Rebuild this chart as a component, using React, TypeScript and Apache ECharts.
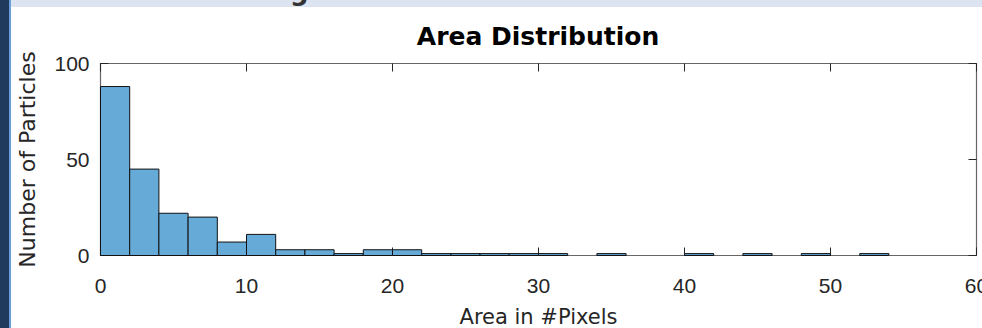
import React, { useEffect, useRef } from "react";
import * as echarts from "echarts";

const binStarts = [0, 2, 4, 6, 8, 10, 12, 14, 16, 18, 20, 22, 24, 26, 28, 30, 32, 34, 36, 38, 40, 42, 44, 46, 48, 50, 52, 54, 56, 58];
const binWidth = 2;
const counts = [88, 45, 22, 20, 7, 11, 3, 3, 1, 3, 3, 1, 1, 1, 1, 1, 0, 1, 0, 0, 1, 0, 1, 0, 1, 0, 1, 0, 0, 0];
const xTicks = [0, 10, 20, 30, 40, 50, 60];
const yTicks = [0, 50, 100];

const titleText = "Area Distribution";
const xName = "Area in #Pixels";
const yName = "Number of Particles";

export default function App() {
  const ref = useRef<HTMLDivElement>(null);
  useEffect(() => {
    if (!ref.current) return;
    const chart = echarts.init(ref.current, null, { renderer: "svg" });
    const data = binStarts.map((s, i) => [s, s + binWidth, counts[i]]);
    const axisColor = "#262626";
    const boxLine = () => ({ show: true, onZero: false, lineStyle: { color: "#666666", width: 1.2 } });
    const tickStyle = () => ({ show: true, inside: true, length: 8, lineStyle: { color: "#262626", width: 1 } });
    const labelStyle = () => ({ color: axisColor, fontSize: 21, fontFamily: "Liberation Sans" });
    chart.setOption({
      animation: false,
      backgroundColor: "#ffffff",
      graphic: [
        { type: "rect", left: 0, top: 0, shape: { width: 9, height: 328 }, style: { fill: "#1f3a5d" } },
        { type: "rect", left: 9, top: 0, shape: { width: 2, height: 328 }, style: { fill: "#6b9fd9" } },
        { type: "rect", left: 11, top: 0, shape: { width: 971, height: 7 }, style: { fill: "#dbe4f0" } },
        { type: "text", x: 290, y: 4, style: { text: "g", font: "bold 26px 'DejaVu Sans'", fill: "#333", textVerticalAlign: "bottom" } },
        { type: "text", x: 538, y: 24, style: { text: titleText, font: "bold 25px 'DejaVu Sans'", fill: "#000", textAlign: "center", textVerticalAlign: "top" } },
      ],
      grid: { left: 100.5, right: 5.5, top: 63.5, bottom: 72.5, containLabel: false, outerBoundsMode: "none" },
      xAxis: [
        {
          type: "value",
          min: 0,
          max: 60,
          interval: 10,
          position: "bottom",
          axisLine: boxLine(),
          axisTick: tickStyle(),
          splitLine: { show: false },
          axisLabel: { ...labelStyle(), margin: 19 },
          name: xName,
          nameLocation: "middle",
          nameGap: 51,
          nameTextStyle: { fontFamily: "DejaVu Sans", fontSize: 21, color: axisColor },
        },
        {
          type: "value",
          min: 0,
          max: 60,
          interval: 10,
          position: "top",
          axisLine: boxLine(),
          axisTick: tickStyle(),
          splitLine: { show: false },
          axisLabel: { show: false },
        },
      ],
      yAxis: [
        {
          type: "value",
          min: 0,
          max: 100,
          interval: 50,
          position: "left",
          axisLine: boxLine(),
          axisTick: tickStyle(),
          splitLine: { show: false },
          axisLabel: { ...labelStyle(), margin: 11, padding: [4, 0, 0, 0] },
          name: yName,
          nameLocation: "middle",
          nameGap: 62,
          nameTextStyle: { fontFamily: "DejaVu Sans", fontSize: 22, color: axisColor },
        },
        {
          type: "value",
          min: 0,
          max: 100,
          interval: 50,
          position: "right",
          axisLine: boxLine(),
          axisTick: tickStyle(),
          splitLine: { show: false },
          axisLabel: { show: false },
        },
      ],
      series: [
        {
          type: "custom",
          xAxisIndex: 0,
          yAxisIndex: 0,
          z: 1,
          data,
          encode: { x: [0, 1], y: 2 },
          renderItem: (params: any, api: any) => {
            const c = api.value(2);
            if (!c) return null;
            const p0 = api.coord([api.value(0), 0]);
            const p1 = api.coord([api.value(1), c]);
            return {
              type: "rect",
              shape: { x: p0[0], y: p1[1], width: p1[0] - p0[0], height: p0[1] - p1[1] },
              style: { fill: "#66aad7", stroke: "#111111", lineWidth: 1 },
            };
          },
        },
      ],
    });
    return () => chart.dispose();
  }, []);
  return <div ref={ref} style={{ position: "absolute", left: 0, top: 0, width: 982, height: 328 }} />;
}
